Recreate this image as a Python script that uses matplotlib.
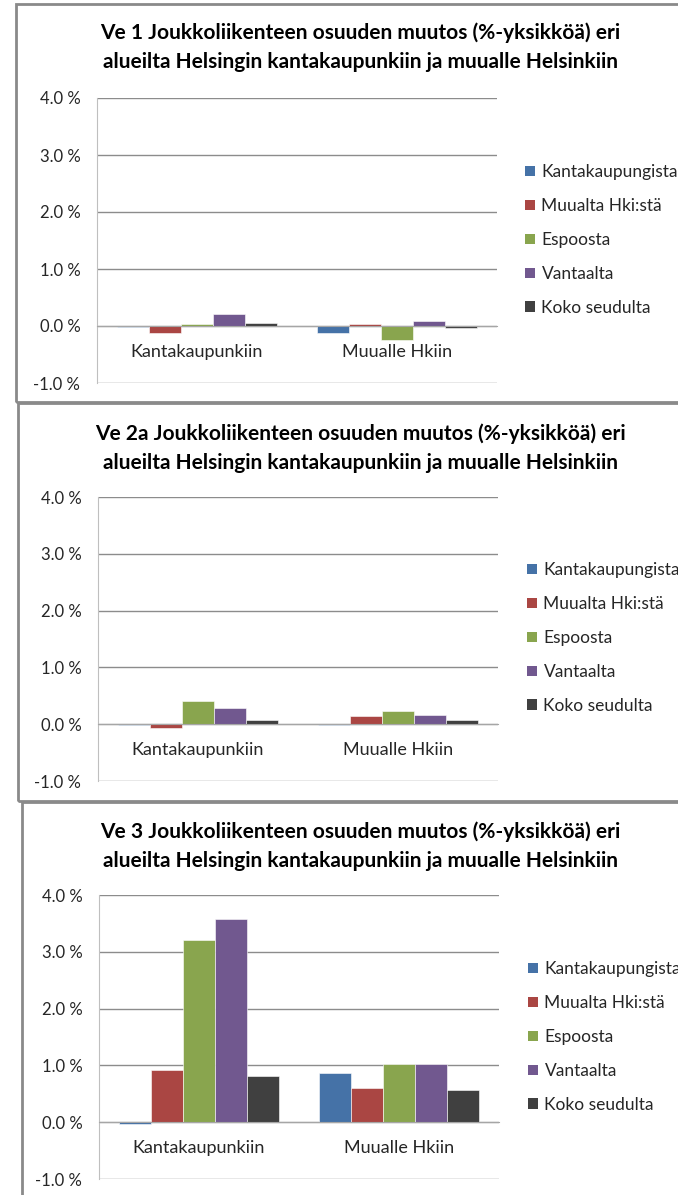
import matplotlib
matplotlib.use("Agg")
import matplotlib.pyplot as plt
from matplotlib.patches import Rectangle, Patch
import numpy as np

plt.rcParams['font.family'] = ['Lato', 'DejaVu Sans']

categories = ["Kantakaupunkiin", "Muualle Hkiin"]
series_names = ["Kantakaupungista", "Muualta Hki:stä", "Espoosta", "Vantaalta", "Koko seudulta"]
colors = ["#4572A7", "#AA4643", "#89A54E", "#71588F", "#404040"]

titles = [
    "Ve 1 Joukkoliikenteen osuuden muutos (%-yksikköä) eri\nalueilta Helsingin kantakaupunkiin ja muualle Helsinkiin",
    "Ve 2a Joukkoliikenteen osuuden muutos (%-yksikköä) eri\nalueilta Helsingin kantakaupunkiin ja muualle Helsinkiin",
    "Ve 3 Joukkoliikenteen osuuden muutos (%-yksikköä) eri\nalueilta Helsingin kantakaupunkiin ja muualle Helsinkiin",
]

# values per series: [Kantakaupunkiin, Muualle Hkiin]
ve1_kantakaupungista = [-0.02, -0.13]
ve1_muualta = [-0.12, 0.03]
ve1_espoosta = [0.035, -0.24]
ve1_vantaalta = [0.21, 0.08]
ve1_koko = [0.05, -0.04]

ve2a_kantakaupungista = [-0.01, -0.01]
ve2a_muualta = [-0.06, 0.15]
ve2a_espoosta = [0.41, 0.23]
ve2a_vantaalta = [0.28, 0.17]
ve2a_koko = [0.07, 0.08]

ve3_kantakaupungista = [-0.03, 0.86]
ve3_muualta = [0.92, 0.60]
ve3_espoosta = [3.21, 1.03]
ve3_vantaalta = [3.58, 1.02]
ve3_koko = [0.81, 0.57]

datasets = [
    [ve1_kantakaupungista, ve1_muualta, ve1_espoosta, ve1_vantaalta, ve1_koko],
    [ve2a_kantakaupungista, ve2a_muualta, ve2a_espoosta, ve2a_vantaalta, ve2a_koko],
    [ve3_kantakaupungista, ve3_muualta, ve3_espoosta, ve3_vantaalta, ve3_koko],
]

yticks = [-1.0, 0.0, 1.0, 2.0, 3.0, 4.0]
ytick_labels = ["-1.0 %", "0.0 %", "1.0 %", "2.0 %", "3.0 %", "4.0 %"]

W, H = 678, 1195
fig = plt.figure(figsize=(W / 100, H / 100), dpi=100)

def fx(x):
    return x / W

def fy(y):
    return 1 - y / H

# panel frames (left, top, bottom) in pixels
panels = [
    dict(frame=(16, 4, 402), ax=(97, 98, 497, 383), title_y=47, leg_x=525, leg_y=240),
    dict(frame=(18, 403, 801), ax=(98, 497, 498, 781), title_y=448, leg_x=527, leg_y=638),
    dict(frame=(22, 802, 1200), ax=(99, 895, 499, 1179), title_y=846, leg_x=528, leg_y=1037),
]

for p, data, title in zip(panels, datasets, titles):
    l, t, b = p["frame"]
    rect = Rectangle((fx(l), fy(b)), fx(W + 20) - fx(l), fy(t) - fy(b),
                     transform=fig.transFigure, fill=False,
                     edgecolor="#8a8a8a", linewidth=2, zorder=0)
    fig.add_artist(rect)

    x0, y0, x1, y1 = p["ax"]
    ax = fig.add_axes([fx(x0), fy(y1), fx(x1) - fx(x0), fy(y0) - fy(y1)])
    ax.spines["bottom"].set_position(("data", 0))
    ax.spines["bottom"].set_color("#a6a6a6")
    ax.spines["bottom"].set_zorder(4)
    ax.spines["left"].set_color("#bfbfbf")
    ax.spines["top"].set_visible(False)
    ax.spines["right"].set_visible(False)

    n = len(series_names)
    bw = 0.8 / n
    xs = np.arange(len(categories))
    for i, (vals, c) in enumerate(zip(data, colors)):
        ax.bar(xs - 0.4 + bw * (i + 0.5), vals, width=bw, color=c,
               edgecolor="white", linewidth=0.4, zorder=3, label=series_names[i])
    ax.set_xlim(-0.5, 1.5)
    ax.set_ylim(-1.0, 4.0)
    ax.set_yticks(yticks)
    ax.set_yticklabels(ytick_labels, fontsize=12, color="#262626")
    ax.yaxis.grid(True, color="#8c8c8c", linewidth=1.0, zorder=0)
    ax.set_axisbelow(True)
    ax.tick_params(axis="y", length=0, pad=12)
    ax.set_xticks(xs)
    ax.set_xticklabels(categories, fontsize=13, color="#262626")
    ax.tick_params(axis="x", length=0, pad=13)

    fig.text(fx(360), fy(p["title_y"]), title, ha="center", va="center",
             fontsize=15, fontweight="bold", color="black", linespacing=1.55)

    handles = [Patch(facecolor=c, edgecolor="none") for c in colors]
    fig.legend(handles, series_names, loc="center left",
               bbox_to_anchor=(fx(p["leg_x"]), fy(p["leg_y"])),
               frameon=False, fontsize=12.5, handlelength=0.55, handleheight=0.55,
               handletextpad=0.4, labelspacing=1.03, borderaxespad=0, borderpad=0,
               labelcolor="#262626")

fig.savefig("out.png", dpi=100)
